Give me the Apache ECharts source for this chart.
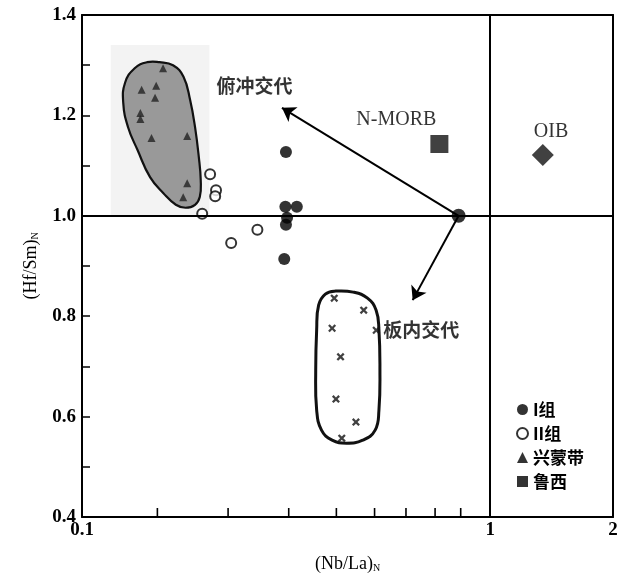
<!DOCTYPE html>
<html><head><meta charset="utf-8">
<script src="https://cdn.jsdelivr.net/npm/echarts@6/dist/echarts.min.js"></script>
<style>html,body{margin:0;padding:0;background:#fff}#c{width:624px;height:580px}</style>
</head><body><div id="c"></div>
<script>
// ---- data (x = (Nb/La)N, y = (Hf/Sm)N) ----
const groupI = [[0.316,1.127],[0.315,1.018],[0.336,1.018],[0.318,0.996],[0.316,0.982],[0.313,0.914]];
const groupII = [[0.206,1.083],[0.213,1.051],[0.212,1.039],[0.197,1.004],[0.269,0.972],[0.232,0.946]];
const xingMeng = [[0.158,1.294],[0.152,1.259],[0.140,1.251],[0.151,1.235],[0.139,1.205],[0.139,1.193],[0.148,1.155],[0.181,1.159],[0.181,1.065],[0.177,1.037]];
const luXi = [];
const intraplate = [[0.415,0.836],[0.490,0.812],[0.410,0.776],[0.526,0.772],[0.430,0.719],[0.419,0.635],[0.469,0.589],[0.433,0.557]];
const nMorb = [[0.751,1.143]];
const oib = [[1.346,1.121]];
const refPoint = [[0.837,1.0]];
const arrowSubduction = [[0.837,1.0],[0.309,1.215]];
const arrowIntraplate = [[0.837,1.0],[0.646,0.832]];
const grayOutline = [[0.1549,1.306],[0.1671,1.300],[0.1773,1.277],[0.184,1.231],[0.1892,1.177],[0.1933,1.117],[0.1954,1.071],[0.1944,1.038],[0.1892,1.022],[0.1793,1.016],[0.1698,1.022],[0.1583,1.045],[0.1468,1.077],[0.1368,1.131],[0.1296,1.177],[0.1262,1.225],[0.1275,1.265],[0.1346,1.294],[0.1444,1.306]];
const crossOutline = [[0.4188,0.850],[0.4616,0.848],[0.5006,0.836],[0.5256,0.812],[0.534,0.773],[0.537,0.693],[0.534,0.613],[0.5227,0.573],[0.4873,0.553],[0.4445,0.547],[0.410,0.553],[0.3862,0.573],[0.3758,0.613],[0.3738,0.693],[0.3758,0.773],[0.380,0.822],[0.3947,0.844]];
const shadeBox = [[0.1176,1.0],[0.2052,1.34]];
const textLabels = [
  {name:'俯冲交代', value:[0.2645,1.259], font:'cjk'},
  {name:'N-MORB', value:[0.589,1.191], font:'serif'},
  {name:'OIB', value:[1.41,1.167], font:'serif'},
  {name:'板内交代', value:[0.678,0.7725], font:'cjk'}
];
const xMinorTicks = [0.153,0.228,0.321,0.42,0.521,0.622,0.733,0.847];
const yRange = [0.4, 1.4];

const serif = "'Liberation Serif','DejaVu Serif',serif";
const cjk = "'Noto Sans CJK SC','Liberation Serif',sans-serif";
const crossPath = 'path://M0,2L2,0L5,3L8,0L10,2L7,5L10,8L8,10L5,7L2,10L0,8L3,5Z';

function outlineSeries(pts, fill, lw) {
  return {
    type: 'custom', silent: true, z: 2, data: pts,
    renderItem: function (params, api) {
      if (params.dataIndex !== 0) return;
      const p = pts.map(function (d) { return api.coord(d); });
      return { type: 'polygon', shape: { points: p, smooth: 0.45 },
        style: { fill: fill, stroke: '#111', lineWidth: lw } };
    }
  };
}

const chart = echarts.init(document.getElementById('c'), null, {renderer: 'canvas'});
chart.setOption({
  backgroundColor: '#fff',
  animation: false,
  grid: { left: 82, right: 11, top: 15, bottom: 63, show: false },
  legend: {
    orient: 'vertical', left: 511, top: 396, itemGap: 7, itemWidth: 11, itemHeight: 11,
    textStyle: { fontFamily: cjk, fontSize: 17, fontWeight: 'bold', color: '#000' },
    data: [
      { name: 'I组', icon: 'circle', itemStyle: { color: '#000' } },
      { name: 'II组', icon: 'circle', itemStyle: { color: '#fff', borderColor: '#000', borderWidth: 2 } },
      { name: '兴蒙带', icon: 'triangle', itemStyle: { color: '#000' } },
      { name: '鲁西', icon: 'rect', itemStyle: { color: '#000' } }
    ],
    selectedMode: false
  },
  xAxis: [{
    type: 'log', logBase: 10, min: 0.1, max: 2, position: 'bottom',
    name: '(Nb/La){sub|N}', nameLocation: 'middle', nameGap: 38,
    nameTextStyle: { fontFamily: serif, fontSize: 18, color: '#000',
      rich: { sub: { fontFamily: serif, fontSize: 10, verticalAlign: 'bottom', padding: [8,0,0,0] } } },
    axisLine: { show: true, onZero: false, lineStyle: { color: '#000', width: 2 } },
    axisTick: { show: false },
    splitLine: { show: false },
    axisLabel: { showMinLabel: true, showMaxLabel: true, margin: 4, color: '#000', fontFamily: serif, fontSize: 19, fontWeight: 'bold',
      formatter: function (v) { return String(+Number(v).toPrecision(3)); } }
  }, {
    type: 'log', logBase: 10, min: 0.1, max: 2, position: 'top',
    axisLine: { show: true, onZero: false, lineStyle: { color: '#000', width: 2 } },
    axisTick: { show: false }, axisLabel: { show: false }, splitLine: { show: false }
  }],
  yAxis: [{
    type: 'value', min: yRange[0], max: yRange[1], interval: 0.2, position: 'left',
    name: '(Hf/Sm){sub|N}', nameLocation: 'middle', nameGap: 42, nameRotate: 90,
    nameTextStyle: { fontFamily: serif, fontSize: 18, color: '#000',
      rich: { sub: { fontFamily: serif, fontSize: 10, verticalAlign: 'bottom', padding: [8,0,0,0] } } },
    axisLine: { show: true, onZero: false, lineStyle: { color: '#000', width: 2 } },
    axisTick: { show: true, inside: true, length: 8, lineStyle: { color: '#000', width: 1.5 } },
    minorTick: { show: true, splitNumber: 2, length: 8, lineStyle: { color: '#000', width: 1.5 } },
    splitLine: { show: false },
    axisLabel: { margin: 6, color: '#000', fontFamily: serif, fontSize: 19, fontWeight: 'bold',
      formatter: function (v) { return v.toFixed(1); } }
  }, {
    type: 'value', min: yRange[0], max: yRange[1], interval: 0.2, position: 'right',
    axisLine: { show: true, onZero: false, lineStyle: { color: '#000', width: 2 } },
    axisTick: { show: false }, axisLabel: { show: false }, splitLine: { show: false }
  }],
  series: [
    {
      type: 'line', data: [], z: 1, silent: true,
      markArea: { silent: true, itemStyle: { color: 'rgba(238,238,238,0.7)' },
        data: [[{ coord: shadeBox[0] }, { coord: shadeBox[1] }]] },
      markLine: { silent: true, symbol: ['none','none'], label: { show: false },
        lineStyle: { color: '#000', width: 2, type: 'solid' },
        data: [{ yAxis: 1.0 }, { xAxis: 1 }] }
    },
    { // bottom-axis tick marks, positioned by the log scale
      type: 'custom', silent: true, z: 10, clip: false,
      data: xMinorTicks.map(function (v) { return [v, 1.0]; }),
      renderItem: function (params, api) {
        const top = api.coord([api.value(0), api.value(1)]);
        const bottom = api.coord([api.value(0), yRange[0]]);
        return { type: 'line', z2: 100,
          shape: { x1: bottom[0], y1: bottom[1] - 1, x2: bottom[0], y2: bottom[1] - 9 },
          style: { stroke: '#000', lineWidth: 1.6 } };
      }
    },
    outlineSeries(grayOutline, '#999999', 2.2),
    outlineSeries(crossOutline, 'rgba(255,255,255,0)', 3),
    {
      type: 'line', data: [], z: 3, silent: true,
      markLine: { silent: true, symbol: ['none','arrow'], symbolSize: 13, label: { show: false },
        lineStyle: { color: '#000', width: 2, type: 'solid' },
        data: [
          [{ coord: arrowSubduction[0] }, { coord: arrowSubduction[1] }],
          [{ coord: arrowIntraplate[0] }, { coord: arrowIntraplate[1] }]
        ] }
    },
    { name: '兴蒙带', type: 'scatter', symbol: 'triangle', symbolSize: 8, z: 4, data: xingMeng,
      itemStyle: { color: '#222' } },
    { name: 'II组', type: 'scatter', symbol: 'circle', symbolSize: 10, z: 4, data: groupII,
      itemStyle: { color: '#fff', borderColor: '#000', borderWidth: 2 } },
    { name: 'I组', type: 'scatter', symbol: 'circle', symbolSize: 12, z: 4, data: groupI,
      itemStyle: { color: '#000' } },
    { name: '鲁西', type: 'scatter', symbol: 'rect', symbolSize: 12, z: 4, data: luXi,
      itemStyle: { color: '#000' } },
    { name: '板内', type: 'scatter', symbol: crossPath, symbolSize: 8, z: 4, data: intraplate,
      itemStyle: { color: '#111' } },
    { name: 'N-MORB', type: 'scatter', symbol: 'rect', symbolSize: 18, z: 4, data: nMorb,
      itemStyle: { color: '#111' } },
    { name: 'OIB', type: 'scatter', symbol: 'diamond', symbolSize: 22, z: 4, data: oib,
      itemStyle: { color: '#111' } },
    { name: 'ref', type: 'scatter', symbol: 'circle', symbolSize: 14, z: 5, data: refPoint,
      itemStyle: { color: '#000' } },
    { name: 'labels', type: 'scatter', symbolSize: 0, z: 6, silent: true,
      data: textLabels.map(function (t) {
        return { name: t.name, value: t.value,
          label: t.font === 'serif'
            ? { fontFamily: serif, fontSize: 20, fontWeight: 'normal' }
            : { fontFamily: cjk, fontSize: 19, fontWeight: 'bold' } };
      }),
      label: { show: true, position: 'inside', formatter: '{b}', color: '#000' } }
  ]
});
</script>
</body></html>
